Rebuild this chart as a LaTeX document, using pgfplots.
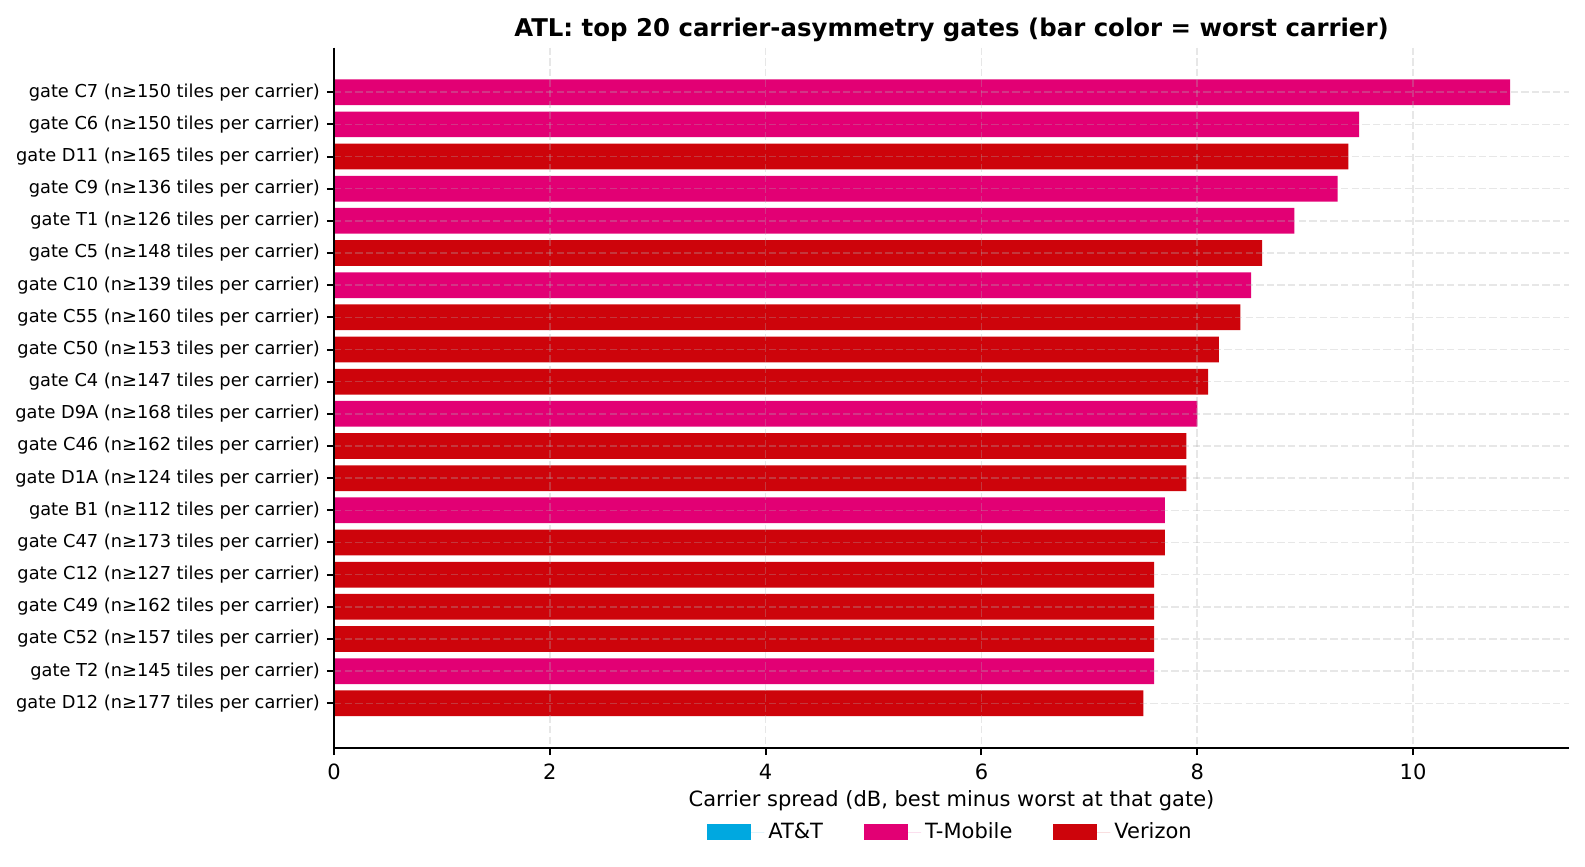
\documentclass[border=0pt]{standalone}
\usepackage{fontspec}
\setmainfont{DejaVu Sans}
\usepackage{pgfplots}
\pgfplotsset{compat=1.18}
\usepackage{pgfplotstable}

\definecolor{att}{HTML}{00A8E0}
\definecolor{tmo}{HTML}{E20074}
\definecolor{vzw}{HTML}{CD040B}
\definecolor{gridc}{HTML}{B0B0B0}

% rows counted from the top (0 = gate C7)
\pgfplotstableread{
idx spread
0  10.9
1  9.5
3  9.3
4  8.9
6  8.5
10 8.0
13 7.7
18 7.6
}\tmobile

\pgfplotstableread{
idx spread
2  9.4
5  8.6
7  8.4
8  8.2
9  8.1
11 7.9
12 7.9
14 7.7
15 7.6
16 7.6
17 7.6
19 7.5
}\verizon

\begin{document}
\begin{tikzpicture}
\path[use as bounding box] (-167pt,-59.5pt) rectangle (625.5pt,374pt);
\begin{axis}[
scale only axis,
width=617.5pt,
height=350.25pt,
xmin=0, xmax=11.445,
ymin=-1.39, ymax=20.39,
y dir=reverse,
axis x line=bottom,
axis y line=left,
axis line style={-, line width=1pt, black},
axis on top,
xbar,
bar width=0.8,
bar shift=0pt,
xtick={0,2,4,6,8,10},
ytick={0,...,19},
yticklabels={
gate C7 (n≥150 tiles per carrier),
gate C6 (n≥150 tiles per carrier),
gate D11 (n≥165 tiles per carrier),
gate C9 (n≥136 tiles per carrier),
gate T1 (n≥126 tiles per carrier),
gate C5 (n≥148 tiles per carrier),
gate C10 (n≥139 tiles per carrier),
gate C55 (n≥160 tiles per carrier),
gate C50 (n≥153 tiles per carrier),
gate C4 (n≥147 tiles per carrier),
gate D9A (n≥168 tiles per carrier),
gate C46 (n≥162 tiles per carrier),
gate D1A (n≥124 tiles per carrier),
gate B1 (n≥112 tiles per carrier),
gate C47 (n≥173 tiles per carrier),
gate C12 (n≥127 tiles per carrier),
gate C49 (n≥162 tiles per carrier),
gate C52 (n≥157 tiles per carrier),
gate T2 (n≥145 tiles per carrier),
gate D12 (n≥177 tiles per carrier)},
tick align=outside,
major tick length=3.5pt,
tick style={line width=1pt, black},
/pgf/number format/assume math mode=true,
xticklabel style={font=\fontsize{10.5}{12}\selectfont, yshift=-1pt},
yticklabel style={font=\fontsize{8.9}{10}\selectfont},
grid=major,
major grid style={dash pattern=on 3.7pt off 1.6pt, line width=0.8pt, color=gridc, opacity=0.3},
title={\textbf{ATL: top 20 carrier-asymmetry gates (bar color = worst carrier)}},
every axis title/.style={at={(0.5,1)}, anchor=center, yshift=8.6pt, font=\fontsize{12.2}{14}\selectfont},
xlabel={Carrier spread (dB, best minus worst at that gate)},
every axis x label/.style={at={(0.5,0)}, anchor=center, yshift=-26.5pt, font=\fontsize{10.5}{12}\selectfont},
legend columns=3,
legend style={draw=none, fill=none, at={(0.5,0)}, anchor=center, yshift=-42pt,
  font=\fontsize{10.5}{12}\selectfont,
  /tikz/every even column/.append style={column sep=18.5pt}},
legend cell align=left,
legend image code/.code={\fill[#1] (0pt,-3.9pt) rectangle (21.75pt,3.9pt); \path (0pt,0pt) -- (28.5pt,0pt);},
]
\addlegendimage{fill=att, draw=none}
\addlegendentry{AT\&T}
\addlegendimage{fill=tmo, draw=none}
\addlegendentry{T-Mobile}
\addlegendimage{fill=vzw, draw=none}
\addlegendentry{Verizon}
\addplot[fill=tmo, draw=none, forget plot] table[x=spread, y=idx] {\tmobile};
\addplot[fill=vzw, draw=none, forget plot] table[x=spread, y=idx] {\verizon};
\end{axis}
\end{tikzpicture}
\end{document}
